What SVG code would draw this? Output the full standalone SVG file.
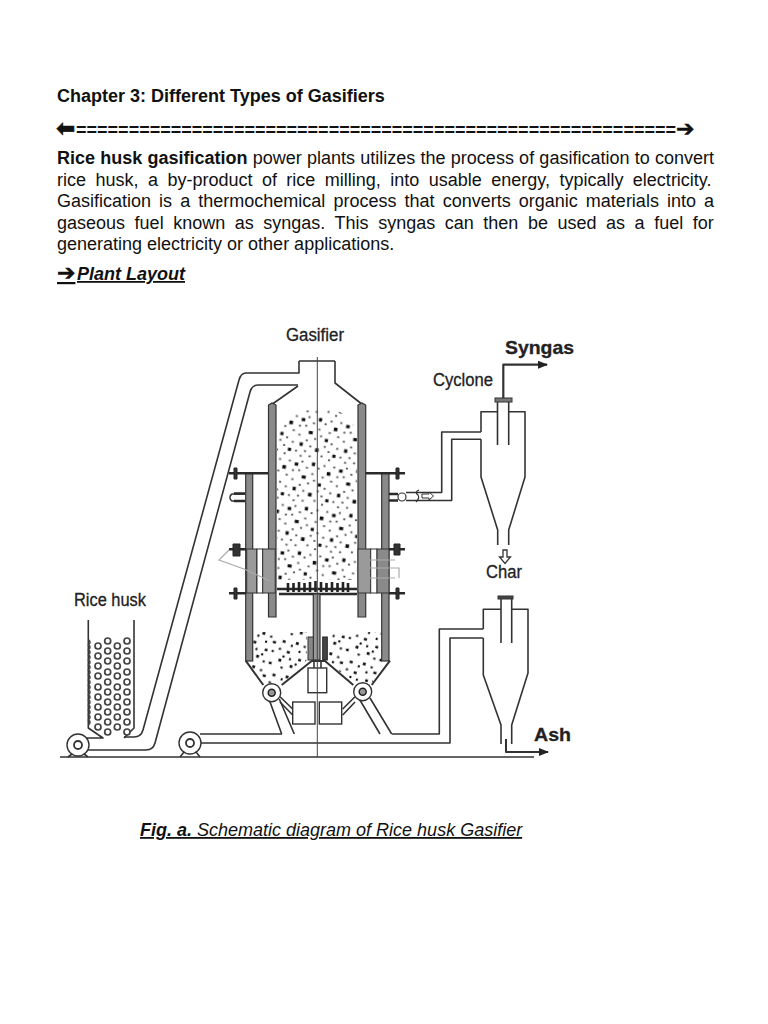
<svg xmlns="http://www.w3.org/2000/svg" width="768" height="1024" viewBox="0 0 768 1024">
<style>
text{font-family:"Liberation Sans",Arial,sans-serif;fill:#111}
.body{font-size:18px}
.b{font-weight:bold}
.bi{font-weight:bold;font-style:italic}
.i{font-style:italic}
.lab{font-size:18px;fill:#222;stroke:#222;stroke-width:.3}
.labb{font-size:18.5px;font-weight:bold;fill:#222;stroke:#222;stroke-width:.3}
.ar{font-family:"DejaVu Sans",sans-serif;stroke:#111;stroke-width:.5}
.soft{filter:url(#soft)}
.ln{fill:none;stroke:#333;stroke-width:1.6;stroke-linejoin:round}
.th{fill:none;stroke:#2a2a2a;stroke-width:2.6}
.gw{fill:#8a8a8a;stroke:#333;stroke-width:1.2}
.wb{fill:#fff;stroke:#333;stroke-width:1.4}
.bolt{fill:#333;stroke:#222;stroke-width:1}
.bead{fill:#fff;stroke:#444;stroke-width:1.7}
</style>
<defs>
<filter id="soft" x="-5%" y="-5%" width="110%" height="110%"><feGaussianBlur stdDeviation="0.4"/></filter>
<pattern id="speck" width="50" height="50" patternUnits="userSpaceOnUse" patternTransform="rotate(9) scale(.9)">
<g fill="#111">
<rect x="4" y="6" width="4" height="3.500"/><rect x="23" y="3" width="3.500" height="4"/><rect x="41" y="11" width="4" height="4"/><rect x="14" y="19" width="4.500" height="3.500"/><rect x="33" y="25" width="3.500" height="3.500"/><rect x="6" y="33" width="3.500" height="4"/><rect x="24" y="37" width="4" height="4"/><rect x="44" y="41" width="3.500" height="3.500"/>
</g>
<g fill="#555">
<rect x="11" y="3" width="2.300" height="2"/><rect x="17" y="9" width="2.300" height="2"/><rect x="30" y="8" width="2.300" height="2"/><rect x="36" y="4" width="2.300" height="2"/><rect x="47" y="4" width="2.300" height="2"/><rect x="2" y="14" width="2.300" height="2"/><rect x="9" y="13" width="2.300" height="2"/><rect x="24" y="15" width="2.300" height="2"/><rect x="36" y="17" width="2.300" height="2"/><rect x="46" y="20" width="2.300" height="2"/><rect x="3" y="24" width="2.300" height="2"/><rect x="21" y="26" width="2.300" height="2"/><rect x="27" y="22" width="2.300" height="2"/><rect x="40" y="29" width="2.300" height="2"/><rect x="12" y="29" width="2.300" height="2"/><rect x="17" y="35" width="2.300" height="2"/><rect x="33" y="33" width="2.300" height="2"/><rect x="47" y="33" width="2.300" height="2"/><rect x="2" y="42" width="2.300" height="2"/><rect x="12" y="41" width="2.300" height="2"/><rect x="18" y="46" width="2.300" height="2"/><rect x="31" y="44" width="2.300" height="2"/><rect x="38" y="38" width="2.300" height="2"/><rect x="8" y="47" width="2.300" height="2"/><rect x="40" y="47" width="2.300" height="2"/>
</g>
</pattern>
<pattern id="speck2" width="50" height="50" patternUnits="userSpaceOnUse" patternTransform="rotate(17) scale(.7)">
<g fill="#111">
<rect x="4" y="6" width="4.400" height="3.500"/><rect x="23" y="3" width="4" height="4"/><rect x="41" y="11" width="4.400" height="3.500"/><rect x="14" y="19" width="4.500" height="3.500"/><rect x="33" y="25" width="4" height="3.500"/><rect x="6" y="33" width="4" height="4"/><rect x="24" y="37" width="4" height="4"/><rect x="44" y="41" width="4" height="3.500"/><rect x="17" y="9" width="3" height="3"/><rect x="30" y="14" width="3" height="3"/><rect x="2" y="18" width="3" height="3"/><rect x="43" y="24" width="3" height="3"/><rect x="20" y="28" width="3" height="3"/><rect x="12" y="43" width="3" height="3"/><rect x="35" y="42" width="3" height="3"/><rect x="35" y="5" width="3" height="3"/><rect x="10" y="27" width="3" height="3"/><rect x="30" y="33" width="3" height="3"/>
</g>
</pattern>
<marker id="ah" markerWidth="10" markerHeight="8" refX="9" refY="4" orient="auto" markerUnits="userSpaceOnUse"><path d="M0 0 L10 4 L0 8 Z" fill="#222"/></marker>
</defs>

<g id="page-text">
<text class="body b" x="57" y="102">Chapter 3: Different Types of Gasifiers</text>
<text class="body b" y="136"><tspan x="56" y="136" class="ar" font-size="23">⬅</tspan><tspan x="76" y="135.500" textLength="600" lengthAdjust="spacing">=========================================================</tspan><tspan x="676" y="136" class="ar" font-size="22">➔</tspan></text>
<text class="body" x="57" y="164" word-spacing="0.24"><tspan class="b">Rice husk gasification</tspan> power plants utilizes the process of gasification to convert</text>
<text class="body" x="57" y="185.500" word-spacing="4.45">rice husk, a by-product of rice milling, into usable energy, typically electricity.</text>
<text class="body" x="57" y="207" word-spacing="3.08">Gasification is a thermochemical process that converts organic materials into a</text>
<text class="body" x="57" y="228.500" word-spacing="4.55">gaseous fuel known as syngas. This syngas can then be used as a fuel for</text>
<text class="body" x="57" y="250">generating electricity or other applications.</text>
<text class="body bi" y="280" text-decoration="underline"><tspan x="57" class="ar" font-size="22">➔</tspan><tspan x="77">Plant Layout</tspan></text>
<text class="body i" x="140" y="836" text-decoration="underline"><tspan class="bi">Fig. a.</tspan> Schematic diagram of Rice husk Gasifier</text>
</g>

<g id="connectors" class="soft">
<path class="ln" d="M299 361 V373 H246 Q241 373 239 380 L143 730 Q141 737 134 737 H124"/>
<path class="ln" d="M298 385 H258 Q252 385 250 392 L155 743 Q153 750 146 750 H88"/>
<path class="ln" d="M406 492.500 H441.700 V432 H481"/>
<path class="ln" d="M406 500.500 H451.700 V439.300 H481"/>
<path class="ln" d="M200 734 H282 M392 734 H439.300 V629 H483.300"/>
<path class="ln" d="M198 743 H450 V638 H483.300"/>
<path class="ln" style="stroke-width:2.200" d="M503.300 399 V364.700 H547" marker-end="url(#ah)"/>
<path class="ln" style="stroke-width:2" d="M506 739 V752 H548" marker-end="url(#ah)"/>
<path class="ln" d="M60 757 H534"/>
<path d="M503 550 V557 H499.500 L505 563.500 L510.500 557 H507 V550 Z" fill="#fff" stroke="#333" stroke-width="1.300"/>
<path d="M422 494 H429 V492 L433.500 496 L429 500 V498 H422 Z" fill="#fff" stroke="#333" stroke-width="1"/>
<path class="ln" style="stroke-width:1.200" d="M419 490 Q414 492 418 495 Q420 498 416 502"/>
</g>

<g id="gasifier" class="soft">
<path d="M277 580 V432 Q285 415 300 412 Q318 405 335 410 Q350 415 357 432 V580 Z" fill="url(#speck)"/>
<path d="M253 632 H307 V660 L282 684 H264 L247 660 Z" fill="url(#speck2)"/>
<path d="M329 632 H381 L388 660 L371 684 H353 L327 660 Z" fill="url(#speck2)"/>
<path class="ln" d="M335 361 H299 M335 361 V383 L363 405 M298 386 L271 405"/>
<path class="gw" d="M268.500 405 L272 403 L276 405 V617 H268.500 Z"/>
<path class="gw" d="M358 405 L362 403 L365.700 405 V617 H358 Z"/>
<rect class="gw" x="245.700" y="473" width="7" height="188"/>
<rect class="gw" x="381.700" y="473" width="7.300" height="188"/>
<rect x="246.700" y="549" width="10" height="44" fill="#9a9a9a" stroke="#333"/>
<rect x="257" y="549" width="5.700" height="44" fill="#fff" stroke="#333"/>
<rect x="262.700" y="549" width="12.500" height="44" fill="#9a9a9a" stroke="#333"/>
<rect x="358" y="549" width="12.700" height="44" fill="#9a9a9a" stroke="#333"/>
<rect x="370.700" y="549" width="6.300" height="44" fill="#fff" stroke="#333"/>
<rect x="377" y="549" width="12" height="44" fill="#8a8a8a" stroke="#333"/>
<path class="th" d="M229 473.300 H268 M365.700 473.300 H405 M229 549.300 H246 M389 549.300 H405 M229 593.300 H246 M389 593.300 H405"/>
<path class="bolt" d="M234 468 h3 v11 h-3 Z M396 468 h3 v11 h-3 Z M233 544 h7 v12 h-7 Z M394 544 h6 v11 h-6 Z M234 588 h3 v11 h-3 Z M396 588 h3 v11 h-3 Z"/>
<path d="M229 550 L219 560 L244 569 L270 581 M370 568 H399 V578 M370 560 H395 M370 578 H395" fill="none" stroke="#aaa" stroke-width="1.200"/>
<path d="M245 494 H232 A4 4 0 0 0 232 501 H245" fill="#fff" stroke="#333" stroke-width="1.500"/>
<path class="th" d="M234 493.500 H245 M234 501 H245 M389 494 H398 M389 500.500 H398"/>
<circle cx="402" cy="497" r="4" fill="#fff" stroke="#333" stroke-width="1.200"/>
<path class="th" d="M277 589 H357 M279 594 H357"/>
<path d="M288 592 V583 M293.500 592 V583 M299 592 V582 M304.500 592 V583 M310 592 V582 M315.500 592 V581 M321 592 V582 M326.500 592 V583 M332 592 V582 M337.500 592 V583 M343 592 V582 M348 592 V583" stroke="#222" stroke-width="2.600" fill="none"/>
<rect x="313.300" y="594" width="6.700" height="66" fill="#999" stroke="#333" stroke-width="1.200"/>
<rect x="308" y="637" width="5.300" height="23" fill="#888" stroke="#333"/>
<rect x="322.700" y="637" width="4.600" height="23" fill="#444" stroke="#222"/>
<path class="ln" style="stroke-width:2" d="M245.700 660.700 L263.300 685 M281.700 685 L311.700 661 H325 L353.300 685 M371.700 685 L390 660.700"/>
<rect class="wb" x="308" y="668" width="18.700" height="24.700"/>
<path class="ln" d="M314 661 V668 M321 661 V668"/>
<rect class="wb" x="292.700" y="702" width="22.300" height="22"/>
<rect class="wb" x="319.300" y="702" width="22.400" height="22"/>
<path class="ln" d="M269.300 700 L281.700 734 M279.300 699 L294.300 734 M359.300 699 L380 734 M370 698 L391.700 734"/>
<path class="ln" d="M280 696.700 L292.700 709 M280 702 L292.700 715 M342.700 715 L355 702 M342.700 709 L355 696.700"/>
<circle class="wb" cx="271.700" cy="692.700" r="9"/><circle cx="271.700" cy="692.700" r="3.500" fill="#999" stroke="#222" stroke-width="1.500"/>
<circle class="wb" cx="362.700" cy="691.700" r="9"/><circle cx="362.700" cy="691.700" r="3.500" fill="#999" stroke="#222" stroke-width="1.500"/>
<path d="M317.300 357 V757" stroke="#444" stroke-width="1" fill="none"/>
</g>

<g id="rice-husk-hopper" class="soft">
<path class="ln" d="M88.300 620 V728 L103 738 H86 M134 620 V728 L124 738"/>
<g class="bead">
<circle cx="98" cy="646" r="3"/><circle cx="98" cy="656" r="3"/><circle cx="98" cy="666" r="3"/><circle cx="98" cy="676" r="3"/><circle cx="98" cy="687" r="3"/><circle cx="98" cy="697" r="3"/><circle cx="98" cy="707" r="3"/><circle cx="98" cy="717" r="3"/><circle cx="98" cy="727" r="3"/>
<circle cx="117.300" cy="646" r="3"/><circle cx="117.300" cy="656" r="3"/><circle cx="117.300" cy="666" r="3"/><circle cx="117.300" cy="676" r="3"/><circle cx="117.300" cy="687" r="3"/><circle cx="117.300" cy="697" r="3"/><circle cx="117.300" cy="707" r="3"/><circle cx="117.300" cy="717" r="3"/><circle cx="117.300" cy="727" r="3"/>
<circle cx="107.700" cy="641" r="3"/><circle cx="107.700" cy="651" r="3"/><circle cx="107.700" cy="661" r="3"/><circle cx="107.700" cy="672" r="3"/><circle cx="107.700" cy="682" r="3"/><circle cx="107.700" cy="692" r="3"/><circle cx="107.700" cy="702" r="3"/><circle cx="107.700" cy="712" r="3"/><circle cx="107.700" cy="722" r="3"/><circle cx="107.700" cy="732" r="3"/>
<circle cx="127" cy="641" r="3"/><circle cx="127" cy="651" r="3"/><circle cx="127" cy="661" r="3"/><circle cx="127" cy="672" r="3"/><circle cx="127" cy="682" r="3"/><circle cx="127" cy="692" r="3"/><circle cx="127" cy="702" r="3"/><circle cx="127" cy="712" r="3"/><circle cx="127" cy="722" r="3"/><circle cx="127" cy="732" r="3"/>
</g>
<path d="M88.500 640 q3 2 0 5 q3 2 0 5 q3 2 0 5 q3 2 0 5 q3 2 0 5 q3 2 0 5 q3 2 0 5 q3 2 0 5 q3 2 0 5 q3 2 0 5 q3 2 0 5 q3 2 0 5 q3 2 0 5 q3 2 0 5 q3 2 0 5 q3 2 0 5 q3 2 0 5" fill="none" stroke="#444" stroke-width="1.600"/>
</g>

<g id="roller-1" class="soft"><path class="ln" d="M72 754 L68 757 M84 754 L88 757"/><circle class="wb" cx="78" cy="745" r="11"/><circle cx="78" cy="745" r="4" fill="#fff" stroke="#333" stroke-width="1.800"/></g>
<g id="roller-2" class="soft"><path class="ln" d="M184 752 L180 757 M196 752 L200 757"/><circle class="wb" cx="190" cy="743" r="11"/><circle cx="190" cy="743" r="4" fill="#fff" stroke="#333" stroke-width="1.800"/></g>

<g id="cyclone-1" class="soft">
<path class="ln" d="M497.500 411.700 H481 V432 M481 439.300 V477 L497.700 530 V545 M508.700 411.700 H525 V477 L508.700 530 V545 M497.500 402 V445 M508.700 402 V445"/>
<rect x="495" y="398" width="17" height="4" fill="#777" stroke="#333"/>
</g>
<g id="cyclone-2" class="soft">
<path class="ln" d="M501 609.300 H483.300 V629 M483.300 638 V675 L501 725 V744 M511.700 609.300 H528 V673 L511.700 725 V744 M501 599 V643 M511.700 599 V643"/>
<rect x="498" y="596" width="15" height="3" fill="#444" stroke="#333"/>
</g>

<g id="labels">
<text class="lab" x="286" y="341" textLength="58" lengthAdjust="spacingAndGlyphs">Gasifier</text>
<text class="lab" x="433" y="386" textLength="60" lengthAdjust="spacingAndGlyphs">Cyclone</text>
<text class="labb" x="505" y="354" textLength="69" lengthAdjust="spacingAndGlyphs">Syngas</text>
<text class="lab" x="486" y="578" textLength="36" lengthAdjust="spacingAndGlyphs">Char</text>
<text class="lab" x="74" y="606" textLength="72" lengthAdjust="spacingAndGlyphs">Rice husk</text>
<text class="labb" x="534" y="741" textLength="37" lengthAdjust="spacingAndGlyphs">Ash</text>
</g>
</svg>
